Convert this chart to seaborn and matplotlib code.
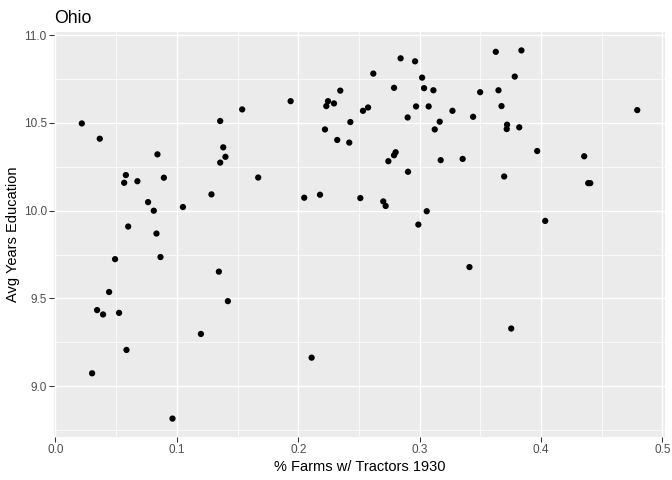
import matplotlib
matplotlib.use("Agg")
import matplotlib.pyplot as plt
import seaborn as sns
import numpy as np
import pandas as pd

# % farms with tractors 1930 (x) and average years of education (y)
tractors = [
    0.0217, 0.0365, 0.084, 0.058, 0.0566, 0.0675, 0.0893, 0.0763, 0.081, 0.105,
    0.1357, 0.1538, 0.1382, 0.140, 0.1357, 0.167, 0.1285,
    0.0599, 0.0832, 0.0491, 0.0865, 0.1346, 0.0442, 0.142, 0.0343, 0.0392, 0.0524,
    0.1198, 0.0585, 0.0302, 0.0964,
    0.1937, 0.2049, 0.2179, 0.2346, 0.2245, 0.2231, 0.2294, 0.222, 0.2429, 0.2321,
    0.242, 0.2618, 0.2533, 0.2575, 0.2511, 0.270, 0.272, 0.2742, 0.2789, 0.2802,
    0.2789, 0.2843, 0.2962, 0.2901, 0.297, 0.2904, 0.3058, 0.302, 0.3036, 0.3113,
    0.3074, 0.3165, 0.3124, 0.327, 0.3173,
    0.2989, 0.211,
    0.3354, 0.344, 0.3498, 0.3627, 0.3838, 0.3783, 0.3649, 0.3674, 0.372, 0.3717,
    0.382, 0.3968, 0.3696, 0.4355, 0.4388, 0.4405, 0.4792,
    0.4034, 0.341, 0.3754,
]
education = [
    10.497, 10.41, 10.321, 10.203, 10.159, 10.168, 10.188, 10.049, 10.0, 10.021,
    10.511, 10.577, 10.361, 10.307, 10.274, 10.189, 10.093,
    9.910, 9.870, 9.724, 9.736, 9.653, 9.537, 9.485, 9.434, 9.409, 9.418,
    9.298, 9.207, 9.074, 8.816,
    10.624, 10.074, 10.091, 10.684, 10.624, 10.596, 10.611, 10.463, 10.505, 10.403,
    10.388, 10.781, 10.569, 10.588, 10.072, 10.053, 10.027, 10.282, 10.316, 10.333,
    10.700, 10.868, 10.851, 10.531, 10.594, 10.222, 9.997, 10.758, 10.698, 10.686,
    10.594, 10.507, 10.463, 10.569, 10.288,
    9.921, 9.163,
    10.295, 10.535, 10.675, 10.905, 10.913, 10.764, 10.686, 10.596, 10.490, 10.465,
    10.475, 10.340, 10.195, 10.310, 10.157, 10.157, 10.573,
    9.942, 9.679, 9.329,
]
x_ticks = [0.0, 0.1, 0.2, 0.3, 0.4, 0.5]
y_ticks = [9.0, 9.5, 10.0, 10.5, 11.0]

df = pd.DataFrame({"tractors": tractors, "education": education})

plt.rcParams["font.family"] = ["Liberation Sans", "DejaVu Sans"]

fig = plt.figure(figsize=(7, 5), dpi=96)
ax = fig.add_axes([0.0804, 0.0896, 0.9896 - 0.0804, 0.9333 - 0.0896])
ax.set_facecolor("#EBEBEB")

# grid
for v in np.arange(0.05, 0.55, 0.1):
    ax.axvline(v, color="white", lw=0.55, zorder=0)
for v in [9.25, 9.75, 10.25, 10.75, 8.75]:
    ax.axhline(v, color="white", lw=0.55, zorder=0)
for v in x_ticks:
    ax.axvline(v, color="white", lw=1.07, zorder=0)
for v in y_ticks:
    ax.axhline(v, color="white", lw=1.07, zorder=0)

sns.scatterplot(data=df, x="tractors", y="education", ax=ax, color="black",
                s=22, edgecolor="none", linewidth=0, zorder=3)

xr = max(tractors) - min(tractors)
yr = max(education) - min(education)
ax.set_xlim(min(tractors) - 0.05 * xr, max(tractors) + 0.05 * xr)
ax.set_ylim(min(education) - 0.05 * yr, max(education) + 0.05 * yr)

ax.set_xticks(x_ticks)
ax.set_xticklabels([f"{t:.1f}" for t in x_ticks])
ax.set_yticks(y_ticks)
ax.set_yticklabels([f"{t:.1f}" for t in y_ticks])
ax.tick_params(axis="both", length=3.5, width=0.8, color="#333333",
               labelsize=8.8, labelcolor="#4D4D4D", pad=2)
for s in ax.spines.values():
    s.set_visible(False)

ax.set_xlabel("% Farms w/ Tractors 1930", fontsize=11, color="black", labelpad=3)
ax.set_ylabel("Avg Years Education", fontsize=11, color="black", labelpad=2.5)
ax.set_title("Ohio", fontsize=13.2, loc="left", color="black", pad=7)

fig.savefig("out.png", dpi=96, facecolor="white")
